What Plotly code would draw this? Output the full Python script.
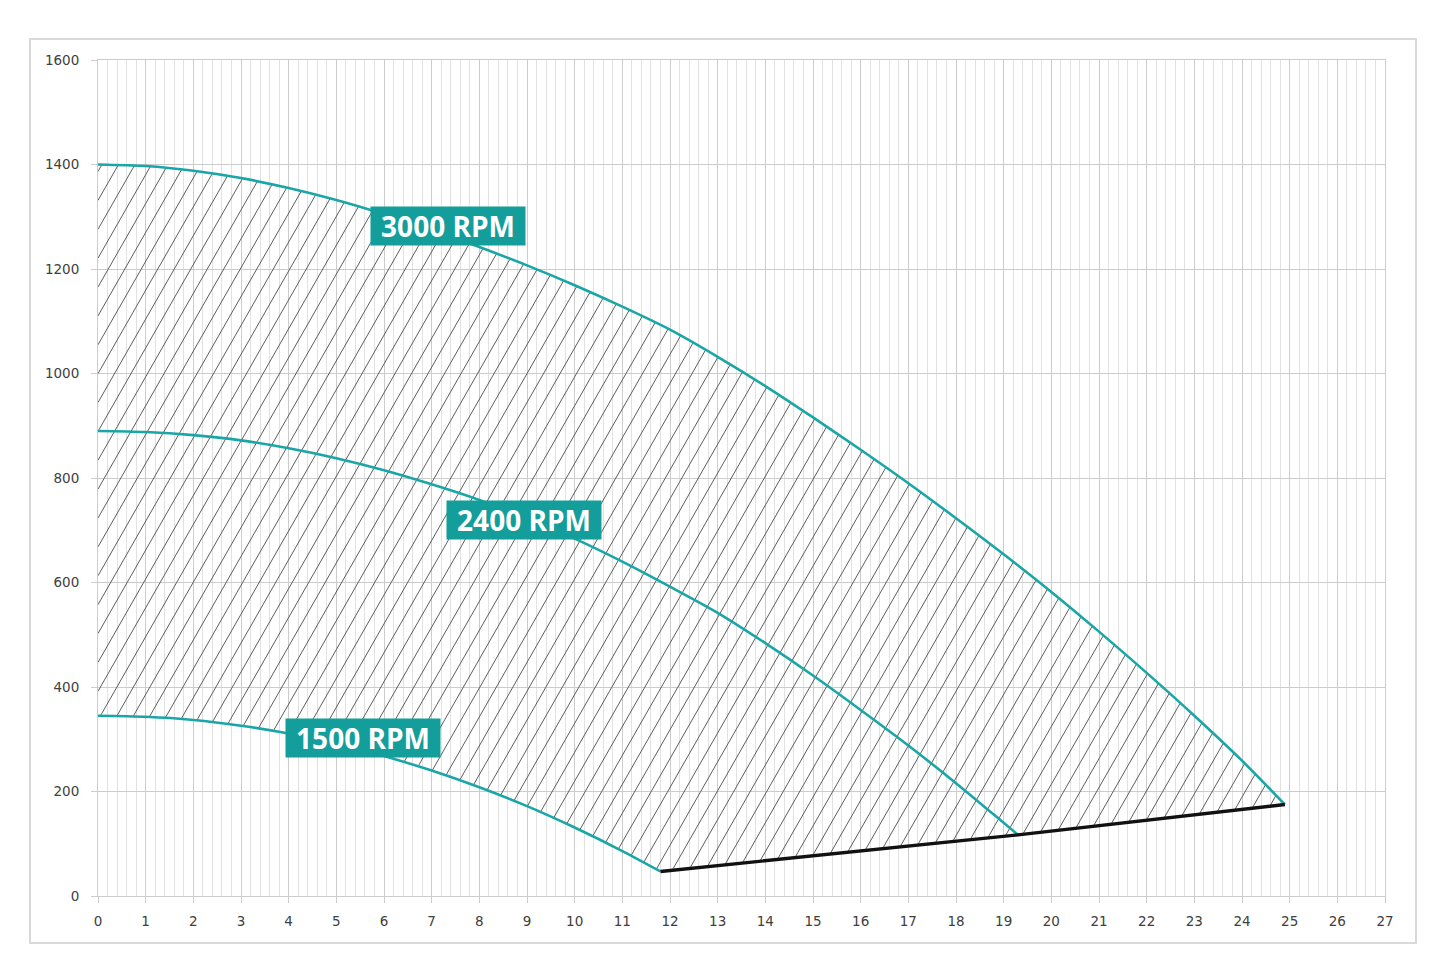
import numpy as np
import plotly.graph_objects as go

# ---------------- data ----------------
flow_3000 = [0, 1, 2, 3, 4, 5, 6, 7, 8, 9, 10, 11, 12, 13, 14, 15, 16, 17, 18, 19, 20, 21, 22, 23, 24, 24.9]
head_3000 = [1400, 1397, 1388, 1374, 1355, 1332, 1305, 1275, 1242, 1207, 1169, 1128, 1084, 1032, 976, 916,
             854, 790, 723, 654, 582, 506, 427, 345, 259, 175]

flow_2400 = [0, 1, 2, 3, 4, 5, 6, 7, 8, 9, 10, 11, 12, 13, 14, 15, 16, 17, 18, 19, 19.3]
head_2400 = [890, 888, 882, 872, 857, 838, 815, 788, 758, 723, 684, 640, 592, 542, 484, 422, 356, 288, 216, 140, 117]

flow_1500 = [0, 1, 2, 3, 4, 5, 6, 7, 8, 9, 10, 11, 11.8]
head_1500 = [345, 343, 337, 326, 311, 292, 268, 240, 208, 172, 131, 86, 47]

limit_flow = [11.8, 19.3, 24.9]
limit_head = [47, 117, 175]

curve_labels = ["3000 RPM", "2400 RPM", "1500 RPM"]
x_tick_vals = list(range(0, 28))
y_tick_vals = list(range(0, 1601, 200))

# ---------------- layout constants ----------------
W, H = 1445, 980
ML, MR, MT, MB = 98, 60, 60, 84
X_MAX, Y_MAX = 27, 1600
TEAL = "#1aa6a6"
LABEL_BG = "#139e9b"

# ---------------- hatch lines clipped to the operating region ----------------
pw, ph = W - ML - MR, H - MT - MB
sx, sy = pw / X_MAX, ph / Y_MAX
poly_x = flow_3000 + limit_flow[::-1] + flow_1500[::-1]
poly_y = head_3000 + limit_head[::-1] + head_1500[::-1]
PX = np.array(poly_x, float) * sx
PY = np.array(poly_y, float) * sy
k = 1.75            # hatch slope in screen pixels
spacing = 16.5      # horizontal spacing in pixels
U = PX - PY / k
n = len(PX)
hx, hy = [], []
for c in np.arange(U.min() + 4.0, U.max(), spacing):
    pts = []
    for i in range(n):
        j = (i + 1) % n
        u1, u2 = U[i], U[j]
        if u1 == u2:
            continue
        if (u1 <= c < u2) or (u2 <= c < u1):
            t = (c - u1) / (u2 - u1)
            pts.append((PX[i] + t * (PX[j] - PX[i]), PY[i] + t * (PY[j] - PY[i])))
    pts.sort(key=lambda p: p[1])
    for a in range(0, len(pts) - 1, 2):
        p, q = pts[a], pts[a + 1]
        hx += [p[0] / sx, q[0] / sx, None]
        hy += [p[1] / sy, q[1] / sy, None]

fig = go.Figure()
fig.add_trace(go.Scatter(x=hx, y=hy, mode="lines", line=dict(color="#5e5e5e", width=1),
                         hoverinfo="skip", showlegend=False))

for fx, fy in [(flow_3000, head_3000), (flow_2400, head_2400), (flow_1500, head_1500)]:
    fig.add_trace(go.Scatter(x=fx, y=fy, mode="lines",
                             line=dict(color=TEAL, width=2.6, shape="spline", smoothing=0.8),
                             showlegend=False))

fig.add_trace(go.Scatter(x=limit_flow, y=limit_head, mode="lines",
                         line=dict(color="#111111", width=3.4), showlegend=False))

label_pos = [(7.35, 1282), (8.94, 720), (5.56, 303)]
for txt, (ax, ay) in zip(curve_labels, label_pos):
    fig.add_annotation(x=ax, y=ay, text=txt, showarrow=False,
                       font=dict(family="Open Sans", size=28, color="white", weight="bold"),
                       bgcolor=LABEL_BG, width=150, height=34, borderpad=2, align="center")

fig.add_shape(type="rect", xref="paper", yref="paper",
              x0=(30 - ML) / pw, x1=(1416 - ML) / pw,
              y0=(H - MB - 943) / ph, y1=(H - MB - 39) / ph,
              line=dict(color="#d9d9d9", width=2), layer="below")

grid_major = "#cccccc"
tick_font = dict(family="DejaVu Sans", size=13.5, color="#404040")
fig.update_xaxes(range=[0, X_MAX], tickvals=x_tick_vals, showgrid=True, gridcolor=grid_major, gridwidth=1,
                 zeroline=False, showline=True, linecolor=grid_major, linewidth=1, mirror=True,
                 ticks="outside", ticklen=6, tickcolor=grid_major, ticklabelstandoff=7,
                 tickfont=tick_font,
                 minor=dict(dtick=0.2, tick0=0, showgrid=True, gridcolor="#e2e2e2", gridwidth=1, ticks=""),
                 fixedrange=True)
fig.update_yaxes(range=[0, Y_MAX], tickvals=y_tick_vals, showgrid=True, gridcolor=grid_major, gridwidth=1,
                 zeroline=False, showline=True, linecolor=grid_major, linewidth=1, mirror=True,
                 ticks="outside", ticklen=6, tickcolor=grid_major, ticklabelstandoff=9,
                 tickfont=tick_font,
                 fixedrange=True)

fig.update_layout(width=W, height=H, margin=dict(l=ML, r=MR, t=MT, b=MB),
                  plot_bgcolor="white", paper_bgcolor="white", showlegend=False)

fig.write_html("out.html")
